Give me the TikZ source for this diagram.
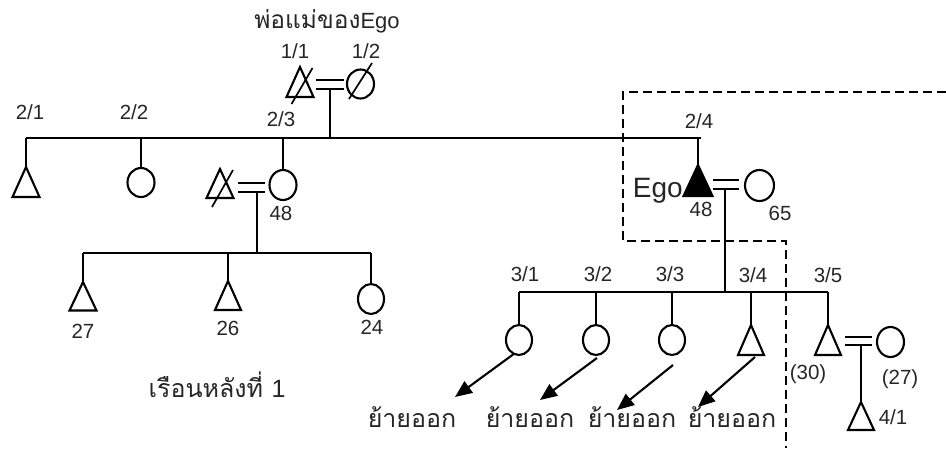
\documentclass[tikz,border=0pt]{standalone}
\usepackage{fontspec}
\setmainfont{Liberation Sans}
\newfontfamily\thaifont[Script=Thai]{Loma}
\usetikzlibrary{shapes.geometric,arrows.meta}
\begin{document}
\begin{tikzpicture}[x=1pt,y=-1pt,
  ln/.style={line width=2.1pt},
  tri/.style={draw, line width=2.1pt, isosceles triangle, isosceles triangle stretches,
    shape border rotate=90, minimum width=27pt, minimum height=30pt,
    inner sep=0pt, outer sep=0pt, anchor=apex},
  circ/.style={draw, line width=2.1pt, ellipse, minimum width=27pt, minimum height=29pt,
    inner sep=0pt, outer sep=0pt},
  lbl/.style={font=\fontsize{20.5}{22}\selectfont, text=black!85, inner sep=0pt, anchor=base},
  thai/.style={font=\fontsize{25}{28}\thaifont, text=black!85, inner sep=0pt, anchor=base},
  dead/.style={line width=1.7pt},
  arr/.style={line width=2.1pt, -{Triangle[length=17pt,width=14pt]}},
  boxline/.style={line width=2pt, dash pattern=on 9pt off 5pt}
]
\useasboundingbox (0,0) rectangle (946,448);

% ---------- generation 1 ----------
\node[lbl] (parents) at (327,28) {{\fontsize{24.5}{27}\thaifont พ่อแม่ของ}{\fontsize{22}{24}\selectfont Ego}};
\node[lbl] (l11) at (295,58) {1/1};
\node[lbl] (l12) at (366,58) {1/2};
\node[tri] (t11) at (300,67) {};
\node[circ] (c12) at (360.5,84) {};
\draw[dead] ([shift={(-8.5,37)}]t11.apex) -- ([shift={(12.5,1)}]t11.apex);
\draw[dead] ([shift={(-11.5,15)}]c12.center) -- ([shift={(11.5,-21)}]c12.center);
\coordinate (u1) at (330,84.5);
\draw[ln] ([shift={(-14,-4.5)}]u1) -- ([shift={(14,-4.5)}]u1);
\draw[ln] ([shift={(-14,4.5)}]u1) -- ([shift={(14,4.5)}]u1);

% ---------- generation 2 ----------
\coordinate (s21) at (26,138);
\coordinate (s22) at (141,138);
\coordinate (s23) at (283,138);
\coordinate (s2m) at (330,138);
\coordinate (s24) at (698,138);
\coordinate (s2e) at (701,138);
\draw[ln] (s21) -- (s2e);
\draw[ln] ([shift={(0,4.5)}]u1) -- (s2m);

\node[lbl] (l21) at (30,119) {2/1};
\node[lbl] (l22) at (134,119) {2/2};
\node[lbl] (l23) at (281,126) {2/3};
\node[lbl] (l24) at (699,128) {2/4};

\node[tri] (t21) at (26,167) {};
\node[circ] (c22) at (141,182.5) {};
\node[circ, minimum height=30pt] (c23) at (283,185) {};
\draw[ln] (s21) -- (t21.apex);
\draw[ln] (s22) -- (c22.north);
\draw[ln] (s23) -- (c23.north);
\node[lbl] (age23) at (281,220) {48};

% husband of 2/3
\node[tri, minimum height=29pt] (t23h) at (220,169) {};
\draw[dead] ([shift={(-8,38)}]t23h.apex) -- ([shift={(13,1)}]t23h.apex);
\coordinate (u2) at (251.5,187.5);
\draw[ln] ([shift={(-13.5,-4.5)}]u2) -- ([shift={(13.5,-4.5)}]u2);
\draw[ln] ([shift={(-13.5,4.5)}]u2) -- ([shift={(13.5,4.5)}]u2);
\coordinate (u2b) at (257,192);
\coordinate (s3m) at (257,253);
\draw[ln] (u2b) -- (s3m);

% children of 2/3
\coordinate (s31) at (83,253);
\coordinate (s32) at (228,253);
\coordinate (s33) at (371,253);
\draw[ln] (s31) -- (s33);
\node[tri, minimum height=28.5pt] (t31) at (83,282) {};
\node[tri, minimum width=26pt, minimum height=29pt] (t32) at (228,281) {};
\node[circ, minimum width=26pt, minimum height=30pt] (c33) at (371,299) {};
\draw[ln] (s31) -- (t31.apex);
\draw[ln] (s32) -- (t32.apex);
\draw[ln] (s33) -- (c33.north);
\node[lbl] (age31) at (83,338) {27};
\node[lbl] (age32) at (228,335) {26};
\node[lbl] (age33) at (372,334) {24};
\node[thai] (house) at (217,397) {เรือนหลังที่ \fontspec{Liberation Sans}1};

% ---------- Ego ----------
\node[tri, fill=black, minimum width=29pt, minimum height=31pt] (ego) at (698,165) {};
\draw[ln] (s24) -- (ego.apex);
\node[lbl, font=\fontsize{28}{30}\selectfont, anchor=base east] (egolbl) at (683,197) {Ego};
\node[lbl] (ageego) at (701,216) {48};
\node[circ, minimum width=29pt, minimum height=31pt] (cw) at (759.5,185.5) {};
\node[lbl] (agew) at (780,220) {65};
\coordinate (u3) at (726,184.5);
\draw[ln] ([shift={(-13,-4.5)}]u3) -- ([shift={(13,-4.5)}]u3);
\draw[ln] ([shift={(-13,4.5)}]u3) -- ([shift={(13,4.5)}]u3);
\coordinate (u3b) at (725,189);
\coordinate (s4m) at (725,292);
\draw[ln] (u3b) -- (s4m);

% dashed household box
\draw[boxline] (946,92) -- (623,92) -- (623,241) -- (786,241) -- (786,448);

% ---------- generation 3 ----------
\coordinate (s41) at (519,292);
\coordinate (s42) at (596,292);
\coordinate (s43) at (672,292);
\coordinate (s44) at (751,292);
\coordinate (s45) at (828,292);
\draw[ln] (s41) -- (s45);
\node[lbl] (l31) at (525,281) {3/1};
\node[lbl] (l32) at (598,281) {3/2};
\node[lbl] (l33) at (670,281) {3/3};
\node[lbl] (l34) at (753,282) {3/4};
\node[lbl] (l35) at (828,282) {3/5};

\node[circ, minimum width=26pt, minimum height=30pt] (c41) at (519,340) {};
\node[circ, minimum width=26pt, minimum height=30pt] (c42) at (596,340) {};
\node[circ, minimum width=26pt, minimum height=30pt] (c43) at (672,340) {};
\node[tri, minimum width=26pt] (t44) at (751,325) {};
\node[tri, minimum width=26pt] (t45) at (828,325) {};
\draw[ln] (s41) -- (c41.north);
\draw[ln] (s42) -- (c42.north);
\draw[ln] (s43) -- (c43.north);
\draw[ln] (s44) -- (t44.apex);
\draw[ln] (s45) -- (t45.apex);

\node[lbl] (age45) at (808,379) {(30)};
\node[circ, minimum height=30pt] (c46) at (890.5,342) {};
\node[lbl] (age46) at (900,384) {(27)};
\coordinate (u4) at (858.5,341);
\draw[ln] ([shift={(-13.5,-4)}]u4) -- ([shift={(13.5,-4)}]u4);
\draw[ln] ([shift={(-13.5,4)}]u4) -- ([shift={(13.5,4)}]u4);
\coordinate (u4b) at (861,345);
\node[tri, minimum width=26pt, minimum height=28pt] (t51) at (861,402) {};
\draw[ln] (u4b) -- (t51.apex);
\node[lbl] (l41) at (893,424) {4/1};

% moved out
\coordinate (a1) at (455,397);
\coordinate (a2) at (540,400);
\coordinate (a3) at (617,410);
\coordinate (a4) at (698,407);
\draw[arr] (c41.250) -- (a1);
\draw[arr] ([shift={(1,3)}]c42.south) -- (a2);
\draw[arr] ([shift={(1,10)}]c43.south) -- (a3);
\draw[arr] ([shift={(4,2)}]t44.lower side) -- (a4);
\node[thai] (m1) at (412,427) {ย้ายออก};
\node[thai] (m2) at (530,427) {ย้ายออก};
\node[thai] (m3) at (632,427) {ย้ายออก};
\node[thai] (m4) at (732,427) {ย้ายออก};
\end{tikzpicture}
\end{document}
